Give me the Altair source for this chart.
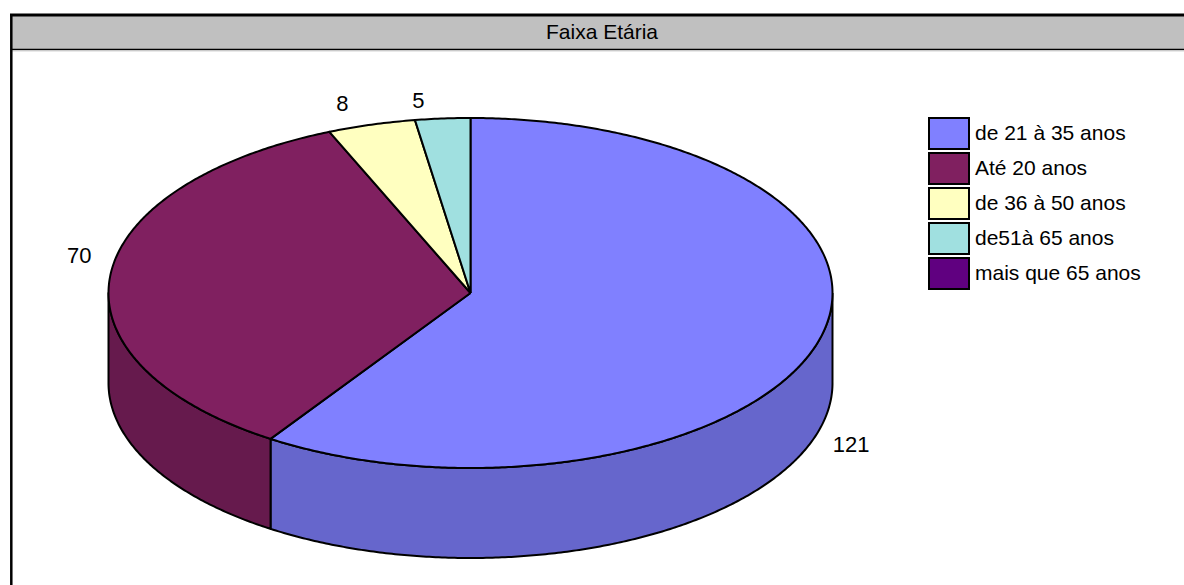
import math
import altair as alt
import pandas as pd

# ---------------- data ----------------
title_text = "Faixa Etária"
categories = ["de 21 à 35 anos", "Até 20 anos", "de 36 à 50 anos", "de51à 65 anos", "mais que 65 anos"]
values = [121, 70, 8, 5, 0]

# ---------------- styles ----------------
top_colors = ["#8080FF", "#802060", "#FFFFC0", "#A0E0E0", "#600080"]
side_colors = ["#6666CC", "#661A4D", "#CCCC9A", "#80B3B3", "#4D0066"]
FONT = "Liberation Sans"
FS = 21
LABEL_FS = 22

# geometry of the 3-D pie (pixel space)
CX, CY, RX, RY, DEPTH = 470.5, 293.0, 362.0, 175.0, 90.0


def pt(a, dy=0.0):
    r = math.radians(a)
    return (CX + RX * math.sin(r), CY - RY * math.cos(r) + dy)


def arc(a0, a1, dy=0.0, step=0.5):
    n = max(2, int(abs(a1 - a0) / step) + 1)
    return [pt(a0 + (a1 - a0) * i / (n - 1), dy) for i in range(n)]


total = float(sum(values))
top_rows, side_rows, label_rows = [], [], []
cum = 0.0
for i, (name, v) in enumerate(zip(categories, values)):
    if v <= 0:
        continue
    a0 = cum / total * 360.0
    a1 = (cum + v) / total * 360.0
    cum += v
    # top face
    poly = [(CX, CY)] + arc(a0, a1) + [(CX, CY)]
    for k, (x, y) in enumerate(poly):
        top_rows.append({"key": name, "o": k, "x": x, "y": y, "c": top_colors[i]})
    # visible side wall (front half of the pie)
    lo, hi = max(a0, 90.0), min(a1, 270.0)
    if hi > lo:
        poly = arc(lo, hi) + arc(hi, lo, DEPTH)
        poly.append(poly[0])
        for k, (x, y) in enumerate(poly):
            side_rows.append({"key": name, "o": k, "x": x, "y": y, "c": side_colors[i]})
    # data label
    m = math.radians((a0 + a1) / 2.0)
    lx = CX + 1.08 * RX * math.sin(m) - 22 * math.cos(m)
    ly = CY - 1.09 * RY * math.cos(m) + 19 * math.sin(m) + (0.88 * DEPTH if math.cos(m) < 0 else 0)
    label_rows.append({"x": lx, "y": ly, "t": str(v)})

top_df = pd.DataFrame(top_rows)
side_df = pd.DataFrame(side_rows)
label_df = pd.DataFrame(label_rows)

n = len(categories)
leg_df = pd.DataFrame({
    "name": categories,
    "c": top_colors,
    "x": [929] * n,
    "x2": [969] * n,
    "y": [118 + 35 * i for i in range(n)],
    "y2": [149 + 35 * i for i in range(n)],
    "ty": [134 + 35 * i for i in range(n)],
    "tx": [975] * n,
})

xs = alt.Scale(domain=[0, 1184], nice=False, zero=False)
ys = alt.Scale(domain=[585, 0], nice=False, zero=False)
X = lambda f: alt.X(f, type="quantitative", scale=xs, axis=None)
Y = lambda f: alt.Y(f, type="quantitative", scale=ys, axis=None)

one = pd.DataFrame({"a": [0]})
# frame and title bar
title_bar = alt.Chart(one).mark_rect(fill="#C0C0C0").encode(
    x=alt.value(12), x2=alt.value(1184), y=alt.value(16), y2=alt.value(49)
)
top_border = alt.Chart(one).mark_rule(color="black", strokeWidth=3).encode(
    x=alt.value(10), x2=alt.value(1184), y=alt.value(15)
)
bar_line = alt.Chart(one).mark_rule(color="black", strokeWidth=1.5).encode(
    x=alt.value(12), x2=alt.value(1184), y=alt.value(49.5)
)
bar_line2 = alt.Chart(one).mark_rule(color="#D4D4D4", strokeWidth=1).encode(
    x=alt.value(12), x2=alt.value(1184), y=alt.value(51)
)
left_border = alt.Chart(one).mark_rule(color="black", strokeWidth=2.5).encode(
    x=alt.value(11.3), y=alt.value(14), y2=alt.value(585)
)
title = alt.Chart(pd.DataFrame({"t": [title_text]})).mark_text(
    font=FONT, fontSize=FS, color="black", align="center", baseline="middle"
).encode(x=alt.value(602), y=alt.value(33), text="t:N")

sides = alt.Chart(side_df).mark_line(stroke="black", strokeWidth=2, strokeJoin="round").encode(
    x=X("x"), y=Y("y"), order="o:Q", detail="key:N", fill=alt.Fill("c:N", scale=None)
)
tops = alt.Chart(top_df).mark_line(stroke="black", strokeWidth=2, strokeJoin="round").encode(
    x=X("x"), y=Y("y"), order="o:Q", detail="key:N", fill=alt.Fill("c:N", scale=None)
)
labels = alt.Chart(label_df).mark_text(
    font=FONT, fontSize=LABEL_FS, color="black", align="center", baseline="middle"
).encode(x=X("x"), y=Y("y"), text="t:N")

leg_boxes = alt.Chart(leg_df).mark_rect(stroke="black", strokeWidth=2).encode(
    x=X("x"), x2="x2", y=Y("y"), y2="y2", fill=alt.Fill("c:N", scale=None)
)
leg_text = alt.Chart(leg_df).mark_text(
    font=FONT, fontSize=FS, color="black", align="left", baseline="middle"
).encode(x=X("tx"), y=Y("ty"), text="name:N")

chart = alt.layer(
    title_bar, top_border, bar_line, bar_line2, left_border, title,
    sides, tops, labels, leg_boxes, leg_text
).properties(
    width=1184, height=585, padding=0,
    autosize=alt.AutoSizeParams(type="none"),
    background="white",
).configure_view(stroke=None)

chart.save("out.html", embed_options={"renderer": "svg", "actions": False})
